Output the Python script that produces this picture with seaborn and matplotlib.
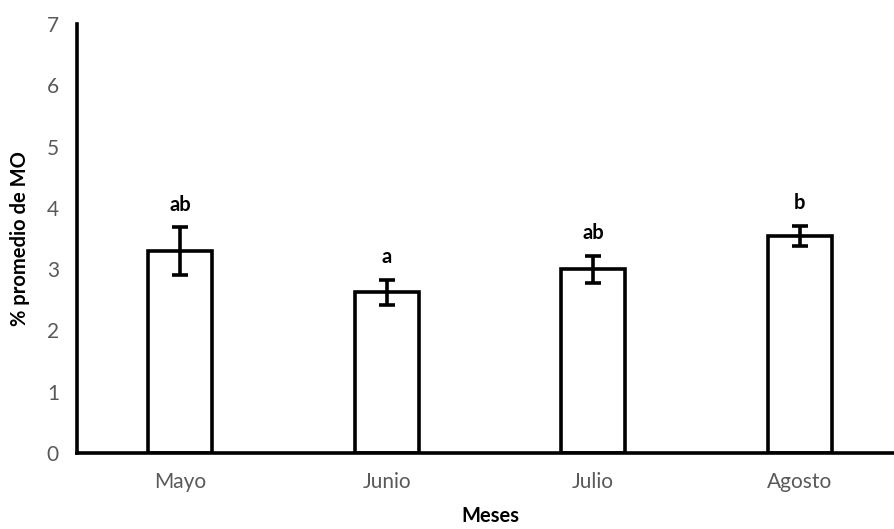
import matplotlib
matplotlib.use("Agg")
import matplotlib.pyplot as plt
import seaborn as sns
import pandas as pd

meses = ["Mayo", "Junio", "Julio", "Agosto"]
promedio_mo = [3.29, 2.62, 3.00, 3.54]
error_mo = [0.39, 0.21, 0.22, 0.17]
letras = ["ab", "a", "ab", "b"]
y_ticks = [0, 1, 2, 3, 4, 5, 6, 7]

df = pd.DataFrame({"Meses": meses, "MO": promedio_mo, "err": error_mo})

sns.set_theme(style="white")
plt.rcParams["font.family"] = ["Lato", "DejaVu Sans"]

fig = plt.figure(figsize=(8.94, 5.29), dpi=100)
ax = fig.add_axes([77 / 894, 1 - 453 / 529, 826 / 894, (453 - 24) / 529])

sns.barplot(data=df, x="Meses", y="MO", ax=ax, color="white", width=0.31,
            edgecolor="black", linewidth=2.6, errorbar=None, saturation=1)

xs = range(len(meses))
ax.errorbar(xs, df["MO"], yerr=df["err"], fmt="none", ecolor="black",
            elinewidth=2.6, capsize=6, capthick=2.6, zorder=5)

for x, v, e, t in zip(xs, promedio_mo, error_mo, letras):
    ax.text(x, v + e + 0.2, t, ha="center", va="bottom", fontsize=14.5,
            fontweight="bold", color="black")

ax.set_xlim(-0.5, 3.5)
ax.set_ylim(0, 7)
ax.set_yticks(y_ticks)
ax.tick_params(axis="both", length=0, labelsize=15, labelcolor="#595959")
ax.tick_params(axis="y", pad=13)
ax.tick_params(axis="x", pad=14)
ax.set_xlabel("Meses", fontsize=14.5, fontweight="bold", color="black", labelpad=10)
ax.set_ylabel("% promedio de MO", fontsize=14.5, fontweight="bold", color="black", labelpad=12)

for s in ["top", "right"]:
    ax.spines[s].set_visible(False)
for s in ["left", "bottom"]:
    ax.spines[s].set_color("black")
    ax.spines[s].set_linewidth(2.6)

fig.savefig("out.png", dpi=100)
